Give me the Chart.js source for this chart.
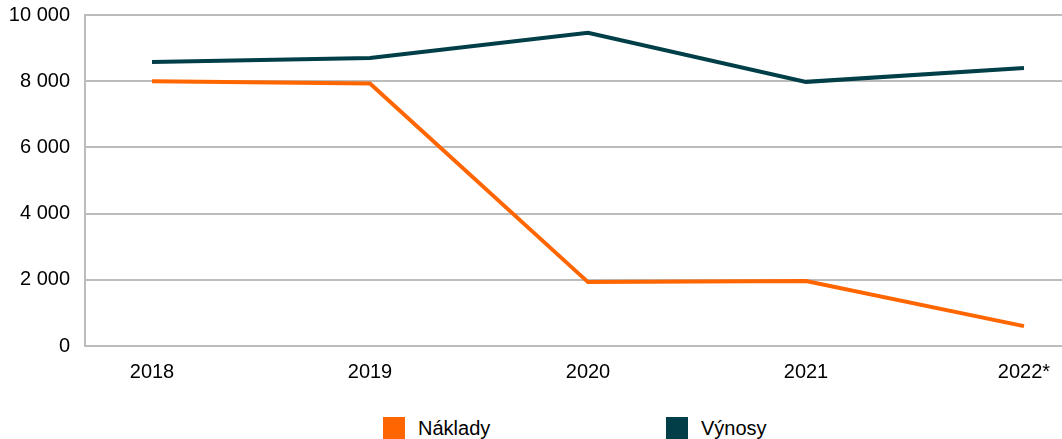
<!DOCTYPE html>
<html>
<head>
<meta charset="utf-8">
<script src="https://cdn.jsdelivr.net/npm/chart.js@4"></script>
<style>
  html, body { margin: 0; padding: 0; background: #fff; }
  #wrap { position: relative; width: 1062px; height: 439px; font-family: "Liberation Sans", Arial, sans-serif; }
  #graf { position: absolute; left: 0; top: 0; }
  .leg { position: absolute; top: 417px; height: 22px; display: flex; align-items: center; font-size: 20px; color: #000; }
  .leg span.box { display: inline-block; width: 22px; height: 22px; margin-right: 13px; }
</style>
</head>
<body>
<div id="wrap">
  <canvas id="graf" width="1062" height="400"></canvas>
  <div class="leg" style="left:383px"><span class="box" style="background:#ff6600"></span>Náklady</div>
  <div class="leg" style="left:666px"><span class="box" style="background:#003f47"></span>Výnosy</div>
</div>
<script>
const roky = ['2018', '2019', '2020', '2021', '2022*'];
const naklady = [8000, 7930, 1930, 1960, 600];
const vynosy = [8580, 8700, 9460, 7980, 8400];
const yTicks = [0, 2000, 4000, 6000, 8000, 10000];

const oranzova = '#ff6600';
const tmava = '#003f47';
const seda = '#bcbcbc';
const pismo = { family: '"Liberation Sans", Arial, sans-serif', size: 20 };

// formát 10 000
function formatCislo(v) {
    return String(v).replace(/\B(?=(\d{3})+(?!\d))/g, ' ');
}

const body = arr => arr.map((v, i) => ({ x: i, y: v }));

new Chart(document.getElementById('graf'), {
    type: 'line',
    data: {
        datasets: [
            { label: 'Náklady', data: body(naklady), borderColor: oranzova, backgroundColor: oranzova, borderWidth: 4, pointRadius: 0, tension: 0 },
            { label: 'Výnosy', data: body(vynosy), borderColor: tmava, backgroundColor: tmava, borderWidth: 4, pointRadius: 0, tension: 0 }
        ]
    },
    options: {
        responsive: false,
        animation: false,
        layout: { padding: { top: 15, right: 0, left: 0, bottom: 0 } },
        plugins: { legend: { display: false }, tooltip: { enabled: false } },
        scales: {
            x: {
                type: 'linear',
                min: -67 / 218,
                max: 4 + 38 / 218,
                afterBuildTicks: s => { s.ticks = roky.map((r, i) => ({ value: i })); },
                afterFit: s => { s.height = 54; s.paddingLeft = 0; s.paddingRight = 0; },
                grid: { display: false, drawTicks: false },
                border: { display: false },
                ticks: { callback: v => roky[v], color: '#000', font: pismo, padding: 14, maxRotation: 0, autoSkip: false }
            },
            y: {
                min: 0,
                max: 10000,
                afterBuildTicks: s => { s.ticks = yTicks.map(v => ({ value: v })); },
                afterFit: s => { s.width = 85; s.paddingTop = 0; s.paddingBottom = 0; },
                grid: { color: seda, lineWidth: 2, drawTicks: false },
                border: { display: true, color: seda, width: 2 },
                ticks: { callback: v => formatCislo(v), color: '#000', font: pismo, padding: 15 }
            }
        }
    }
});
</script>
</body>
</html>
